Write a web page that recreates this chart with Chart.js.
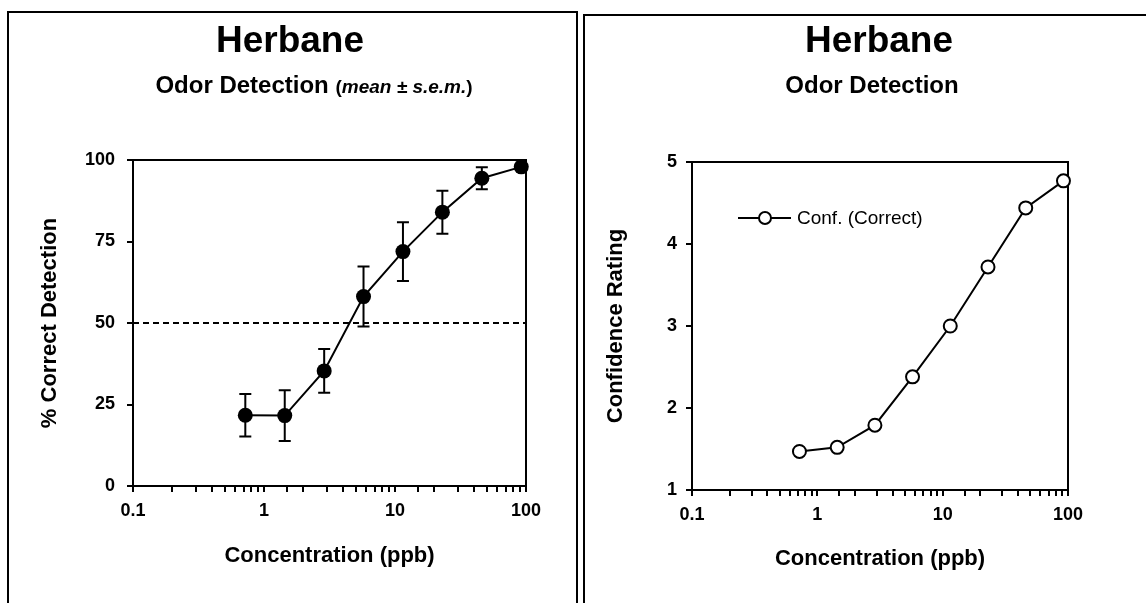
<!DOCTYPE html>
<html>
<head>
<meta charset="utf-8">
<script src="https://cdn.jsdelivr.net/npm/chart.js@4.4.1/dist/chart.umd.min.js"></script>
<style>
    body {
        margin: 0;
        width: 1146px;
        height: 603px;
        overflow: hidden;
        background: #fff;
        position: relative;
        font-family: 'Liberation Sans', Arial, sans-serif;
        color: #000;
    }
    .panel {
        position: absolute;
        border: 2px solid #000;
        box-sizing: border-box;
    }
    #panelLeft { left: 7px; top: 11px; width: 571px; height: 700px; }
    #panelRight { left: 583px; top: 14px; width: 700px; height: 700px; }
    canvas { position: absolute; top: 0; }
    #chartLeft { left: 0; }
    #chartRight { left: 576px; }
    .title {
        position: absolute;
        font-weight: bold;
        white-space: nowrap;
        line-height: 1;
        transform: translateX(-50%);
    }
    .main { font-size: 37px; }
    .sub { font-size: 24px; }
    .sub span { font-size: 19px; }
    #legend {
        position: absolute;
        left: 738px;
        top: 208px;
        display: flex;
        align-items: center;
        font-size: 19px;
        line-height: 1;
    }
    #legend span { margin-left: 6px; }
</style>
</head>
<body>
<div class="panel" id="panelLeft"></div>
<div class="panel" id="panelRight"></div>

<canvas id="chartLeft" width="576" height="603"></canvas>
<canvas id="chartRight" width="570" height="603"></canvas>

<div class="title main" style="left:290px; top:21px;">Herbane</div>
<div class="title sub" style="left:314px; top:73px;">Odor Detection <span>(<i>mean ± s.e.m.</i>)</span></div>
<div class="title main" style="left:879px; top:21px;">Herbane</div>
<div class="title sub" style="left:872px; top:73px;">Odor Detection</div>

<div id="legend">
    <svg width="53" height="16">
        <line x1="0" y1="8" x2="53" y2="8" stroke="#000" stroke-width="2"/>
        <circle cx="27" cy="8" r="6" fill="#fff" stroke="#000" stroke-width="2"/>
    </svg>
    <span>Conf. (Correct)</span>
</div>

<script>
// Data läst från bilden
const concentrations = [0.72, 1.44, 2.88, 5.75, 11.5, 23, 46, 92];
const detectionMean = [21.7, 21.6, 35.3, 58.1, 71.9, 84.0, 94.4, 97.9];
const detectionSem = [6.5, 7.8, 6.7, 9.2, 9.0, 6.6, 3.4, 0.8];
const confidence = [1.47, 1.52, 1.79, 2.38, 3.00, 3.72, 4.44, 4.77];

const xTickValues = [0.1, 1, 10, 100];
const xTickLabels = ['0.1', '1', '10', '100'];
const detectionTicks = [0, 25, 50, 75, 100];
const confidenceTicks = [1, 2, 3, 4, 5];
const chanceLevel = 50;

Chart.defaults.font.family = "'Liberation Sans', Arial, sans-serif";
Chart.defaults.color = '#000';

//Plugin som ritar ram runt plottytan och felstaplar
const frameAndErrors = {
    id: 'frameAndErrors',
    beforeDatasetsDraw(chart, args, opts) {
        const { ctx, chartArea } = chart;
        ctx.save();
        ctx.strokeStyle = '#000';
        ctx.lineWidth = 2;
        ctx.beginPath();
        ctx.moveTo(chartArea.left, chartArea.top);
        ctx.lineTo(chartArea.right, chartArea.top);
        ctx.lineTo(chartArea.right, chartArea.bottom);
        ctx.stroke();

        if (opts.sem) {
            const x = chart.scales.x;
            const y = chart.scales.y;
            opts.mean.forEach((m, i) => {
                const px = x.getPixelForValue(opts.x[i]);
                const top = y.getPixelForValue(m + opts.sem[i]);
                const bottom = y.getPixelForValue(m - opts.sem[i]);
                ctx.beginPath();
                ctx.moveTo(px, top);
                ctx.lineTo(px, bottom);
                ctx.moveTo(px - 6, top);
                ctx.lineTo(px + 6, top);
                ctx.moveTo(px - 6, bottom);
                ctx.lineTo(px + 6, bottom);
                ctx.stroke();
            });
        }
        ctx.restore();
    }
};

function isDecade(v) {
    const l = Math.log10(v);
    return Math.abs(l - Math.round(l)) < 1e-6;
}

function xAxis(height, padding) {
    return {
        type: 'logarithmic',
        min: xTickValues[0],
        max: xTickValues[xTickValues.length - 1],
        border: { display: true, color: '#000', width: 2 },
        grid: { drawOnChartArea: false, tickLength: 6, color: '#000', lineWidth: 2 },
        ticks: {
            autoSkip: false,
            maxRotation: 0,
            padding: 8,
            font: { size: 18, weight: 'bold' },
            callback: function(value) {
                if (!isDecade(value)) return '';
                const i = xTickValues.findIndex(t => Math.abs(Math.log10(t) - Math.log10(value)) < 1e-6);
                return i >= 0 ? xTickLabels[i] : '';
            }
        },
        title: {
            display: true,
            text: 'Concentration (ppb)',
            font: { size: 22, weight: 'bold' },
            padding: { bottom: padding }
        },
        afterFit: function(scale) {
            scale.height = height;
        }
    };
}

function yAxis(ticksList, label, width, titlePad, tickPad) {
    return {
        min: ticksList[0],
        max: ticksList[ticksList.length - 1],
        border: { display: true, color: '#000', width: 2 },
        grid: { drawOnChartArea: false, tickLength: 6, color: '#000', lineWidth: 2 },
        afterBuildTicks: function(scale) {
            scale.ticks = ticksList.map(v => ({ value: v }));
        },
        ticks: {
            padding: tickPad,
            font: { size: 18, weight: 'bold' }
        },
        title: {
            display: true,
            text: label,
            font: { size: 22, weight: 'bold' },
            padding: { top: titlePad }
        },
        afterFit: function(scale) {
            scale.width = width;
        }
    };
}

//Vänster diagram: andel korrekt detektion
new Chart(document.getElementById('chartLeft'), {
    type: 'line',
    data: {
        datasets: [
            {
                data: concentrations.map((c, i) => ({ x: c, y: detectionMean[i] })),
                borderColor: '#000',
                borderWidth: 2,
                backgroundColor: '#000',
                pointRadius: 7.5,
                pointBorderWidth: 0,
                clip: false
            },
            {
                data: [
                    { x: xTickValues[0], y: chanceLevel },
                    { x: xTickValues[xTickValues.length - 1], y: chanceLevel }
                ],
                borderColor: '#000',
                borderWidth: 2,
                borderDash: [6, 4],
                pointRadius: 0
            }
        ]
    },
    options: {
        responsive: false,
        animation: false,
        layout: { padding: { left: 0, right: 50, top: 160, bottom: 0 } },
        scales: {
            x: xAxis(117, 34),
            y: yAxis(detectionTicks, '% Correct Detection', 133, 37, 12)
        },
        plugins: {
            legend: { display: false },
            tooltip: { enabled: false },
            frameAndErrors: { x: concentrations, mean: detectionMean, sem: detectionSem }
        }
    },
    plugins: [frameAndErrors]
});

//Höger diagram: konfidensskattning
new Chart(document.getElementById('chartRight'), {
    type: 'line',
    data: {
        datasets: [
            {
                label: 'Conf. (Correct)',
                data: concentrations.map((c, i) => ({ x: c, y: confidence[i] })),
                borderColor: '#000',
                borderWidth: 2,
                backgroundColor: '#fff',
                pointRadius: 6.5,
                pointBorderWidth: 2,
                clip: false
            }
        ]
    },
    options: {
        responsive: false,
        animation: false,
        layout: { padding: { left: 0, right: 78, top: 162, bottom: 0 } },
        scales: {
            x: xAxis(113, 31),
            y: yAxis(confidenceTicks, 'Confidence Rating', 116, 27, 9)
        },
        plugins: {
            legend: { display: false },
            tooltip: { enabled: false },
            frameAndErrors: {}
        }
    },
    plugins: [frameAndErrors]
});
</script>
</body>
</html>
